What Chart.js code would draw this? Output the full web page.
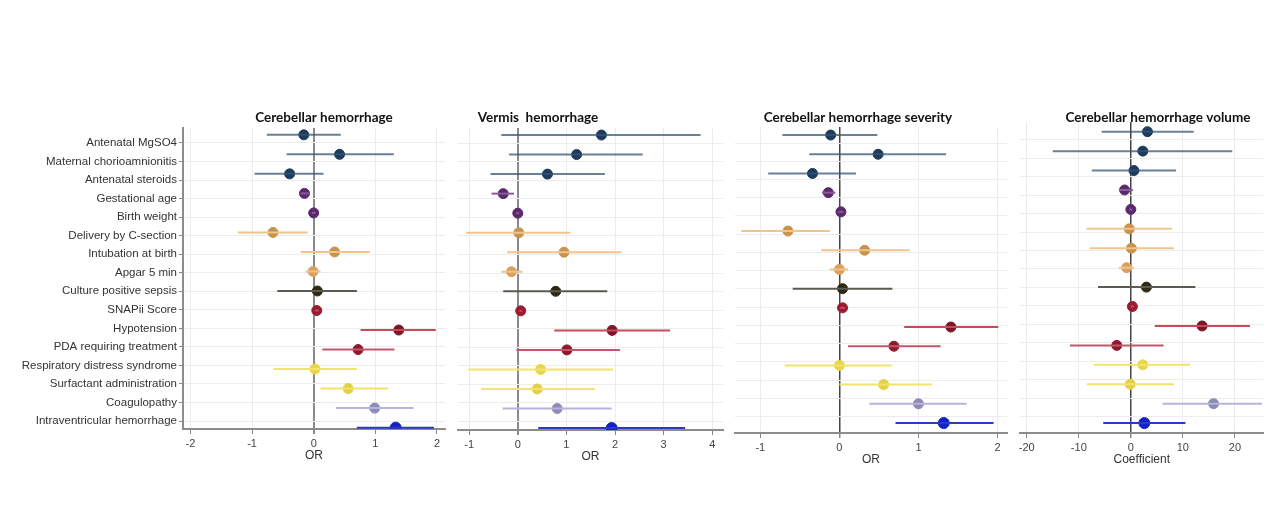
<!DOCTYPE html>
<html>
<head>
<meta charset="utf-8">
<script src="https://cdn.jsdelivr.net/npm/chart.js@4"></script>
<style>
  body { margin: 0; background: #fff; }
  #wrap { position: relative; width: 1270px; height: 525px; overflow: hidden; }
  canvas { position: absolute; top: 0; }
</style>
</head>
<body>
<div id="wrap">
  <canvas id="c1" width="460" height="525" style="left:0px"></canvas>
  <canvas id="c2" width="290" height="525" style="left:450px"></canvas>
  <canvas id="c3" width="300" height="525" style="left:720px"></canvas>
  <canvas id="c4" width="265" height="525" style="left:1005px"></canvas>
</div>
<script>
// predictors (same order in every panel)
const labels = ['Antenatal MgSO4', 'Maternal chorioamnionitis', 'Antenatal steroids', 'Gestational age',
  'Birth weight', 'Delivery by C-section', 'Intubation at birth', 'Apgar 5 min', 'Culture positive sepsis',
  'SNAPii Score', 'Hypotension', 'PDA requiring treatment', 'Respiratory distress syndrome',
  'Surfactant administration', 'Coagulopathy', 'Intraventricular hemorrhage'];

// cerebellar hemorrhage (OR)
const chEst = [-0.16, 0.42, -0.39, -0.15, 0.0, -0.66, 0.34, -0.01, 0.06, 0.05, 1.38, 0.72, 0.02, 0.56, 0.99, 1.33];
const chLo  = [-0.76, -0.44, -0.96, -0.21, -0.03, -1.23, -0.21, -0.13, -0.59, 0.02, 0.76, 0.14, -0.65, 0.11, 0.36, 0.70];
const chHi  = [0.44, 1.30, 0.16, -0.08, 0.03, -0.10, 0.91, 0.11, 0.70, 0.08, 1.98, 1.31, 0.70, 1.21, 1.62, 1.95];

// vermis hemorrhage (OR)
const vhEst = [1.72, 1.21, 0.61, -0.30, 0.0, 0.02, 0.95, -0.13, 0.78, 0.06, 1.94, 1.01, 0.47, 0.40, 0.81, 1.93];
const vhLo  = [-0.34, -0.18, -0.56, -0.54, -0.03, -1.06, -0.22, -0.34, -0.30, 0.03, 0.75, -0.03, -1.02, -0.75, -0.31, 0.42];
const vhHi  = [3.76, 2.57, 1.79, -0.08, 0.03, 1.08, 2.13, 0.10, 1.84, 0.09, 3.13, 2.10, 1.96, 1.58, 1.93, 3.44];

// cerebellar hemorrhage severity (OR)
const sevEst = [-0.11, 0.49, -0.34, -0.14, 0.02, -0.65, 0.32, 0.0, 0.04, 0.04, 1.41, 0.69, 0.0, 0.56, 1.0, 1.32];
const sevLo  = [-0.72, -0.38, -0.90, -0.22, -0.01, -1.24, -0.23, -0.12, -0.59, 0.01, 0.82, 0.11, -0.69, 0.0, 0.38, 0.71];
const sevHi  = [0.48, 1.35, 0.21, -0.05, 0.05, -0.12, 0.89, 0.11, 0.67, 0.07, 2.01, 1.28, 0.66, 1.17, 1.61, 1.95];

// cerebellar hemorrhage volume (coefficient)
const volEst = [3.2, 2.3, 0.6, -1.2, 0.0, -0.3, 0.1, -0.8, 3.0, 0.3, 13.7, -2.7, 2.3, -0.1, 15.9, 2.6];
const volLo  = [-5.6, -15.0, -7.5, -2.3, -0.3, -8.5, -7.9, -2.3, -6.3, 0.0, 4.6, -11.7, -7.1, -8.5, 6.1, -5.3];
const volHi  = [12.1, 19.5, 8.7, 0.4, 0.3, 7.9, 8.3, 0.6, 12.4, 0.6, 22.9, 6.3, 11.4, 8.3, 25.2, 10.5];

// x tick labels
const orTicks1 = [-2, -1, 0, 1, 2];
const orTicks2 = [-1, 0, 1, 2, 3, 4];
const orTicks3 = [-1, 0, 1, 2];
const coefTicks = [-20, -10, 0, 10, 20];

// colours per row
const dotCol = ['#1d3b5c', '#1d3b5c', '#1d3b5c', '#5b2a6e', '#5b2a6e', '#c8934f', '#c8934f', '#d9a060',
  '#2e2a12', '#9b1b30', '#7d1526', '#8e1a2c', '#e8d44d', '#e3cf48', '#8d8bb8', '#1420c8'];
const lineCol = ['rgba(55,85,115,0.75)', 'rgba(55,85,115,0.75)', 'rgba(55,85,115,0.75)', '#8a5a9a', '#8a5a9a',
  '#f0c48a', '#f0c48a', '#f0c48a', '#5a5a50', '#c44a5c', '#c84a5a', '#c4566a', '#f2e46a', '#f2e46a',
  '#b6b4d8', '#2a3ac4'];

const panelTitle = {
  id: 'panelTitle',
  afterDraw(chart, args, o) {
    const ctx = chart.ctx;
    ctx.save();
    ctx.font = 'bold 13.5px Lato';
    ctx.fillStyle = '#111';
    ctx.textAlign = 'center';
    ctx.textBaseline = 'middle';
    ctx.fillText(o.text, o.x, o.y, o.w);
    ctx.restore();
  }
};

function makeDatasets(est, lo, hi) {
  const ds = labels.map((l, i) => ({
    data: [{x: lo[i], y: i}, {x: hi[i], y: i}],
    showLine: true,
    borderColor: lineCol[i],
    borderWidth: 2,
    pointRadius: 0
  }));
  ds.push({
    data: est.map((v, i) => ({x: v, y: i})),
    pointBackgroundColor: dotCol,
    pointBorderColor: dotCol,
    pointRadius: est.map((v, i) => i === labels.length - 1 ? 5.5 : 5)
  });
  return ds;
}

function forest(id, p) {
  new Chart(document.getElementById(id), {
    type: 'scatter',
    data: { datasets: makeDatasets(p.est, p.lo, p.hi) },
    options: {
      responsive: false,
      animation: false,
      layout: { padding: p.pad },
      plugins: {
        legend: { display: false },
        tooltip: { enabled: false },
        panelTitle: p.title
      },
      scales: {
        x: {
          type: 'linear',
          min: p.xmin, max: p.xmax,
          afterBuildTicks: a => { a.ticks = p.ticks.map(v => ({value: v})); },
          afterFit: s => { s.height = 38; },
          ticks: { color: '#444', font: { family: 'Liberation Sans', size: 11 }, padding: 3 },
          grid: {
            color: c => c.tick && c.tick.value === 0 ? p.zeroCol : '#ececec',
            lineWidth: c => c.tick && c.tick.value === 0 ? p.zeroW : 1,
            tickLength: 5, tickColor: '#888'
          },
          border: { display: true, color: '#8c8c8c', width: 2 },
          title: { display: true, text: p.xTitle, color: '#333', font: { family: 'Liberation Sans', size: 12 } }
        },
        y: {
          type: 'linear',
          reverse: true,
          min: p.ymin, max: p.ymax,
          afterBuildTicks: a => { a.ticks = labels.map((l, i) => ({value: 0.418 + i * 0.9495})); },
          afterFit: s => { s.width = p.yw; },
          ticks: {
            display: p.showLabels, autoSkip: false, padding: 2, color: '#333',
            font: { family: 'Liberation Sans', size: 11.5 },
            callback: (v, i) => labels[i]
          },
          grid: { color: '#ececec', drawTicks: p.showLabels, tickLength: 4, tickColor: '#888' },
          border: { display: p.showLabels, color: '#8c8c8c', width: 2 }
        }
      }
    },
    plugins: [panelTitle]
  });
}

forest('c1', {
  est: chEst, lo: chLo, hi: chHi, ticks: orTicks1, xmin: -2.12, xmax: 2.13, xTitle: 'OR',
  ymin: -0.35, ymax: 15.07, yw: 183, showLabels: true,
  pad: { left: 0, right: 15, top: 128, bottom: 58 },
  zeroCol: '#8a8a8a', zeroW: 2,
  title: { text: 'Cerebellar hemorrhage', x: 324, y: 118, w: 154 }
});
forest('c2', {
  est: vhEst, lo: vhLo, hi: vhHi, ticks: orTicks2, xmin: -1.23, xmax: 4.22, xTitle: 'OR',
  ymin: -0.36, ymax: 15.1, yw: 0, showLabels: false,
  pad: { left: 8, right: 17, top: 128, bottom: 57 },
  zeroCol: '#8a8a8a', zeroW: 2,
  title: { text: 'Vermis  hemorrhage', x: 88, y: 118, w: 136 }
});
forest('c3', {
  est: sevEst, lo: sevLo, hi: sevHi, ticks: orTicks3, xmin: -1.32, xmax: 2.12, xTitle: 'OR',
  ymin: -0.42, ymax: 15.52, yw: 0, showLabels: false,
  pad: { left: 15, right: 13, top: 127, bottom: 54 },
  zeroCol: '#444', zeroW: 1.5,
  title: { text: 'Cerebellar hemorrhage severity', x: 138, y: 118, w: 211 }
});
forest('c4', {
  est: volEst, lo: volLo, hi: volHi, ticks: coefTicks, xmin: -21.3, xmax: 25.5, xTitle: 'Coefficient',
  ymin: -0.5, ymax: 15.51, yw: 0, showLabels: false,
  pad: { left: 15, right: 3, top: 122, bottom: 54 },
  zeroCol: '#444', zeroW: 1.5,
  title: { text: 'Cerebellar hemorrhage volume', x: 153, y: 118, w: 210 }
});
</script>
</body>
</html>
